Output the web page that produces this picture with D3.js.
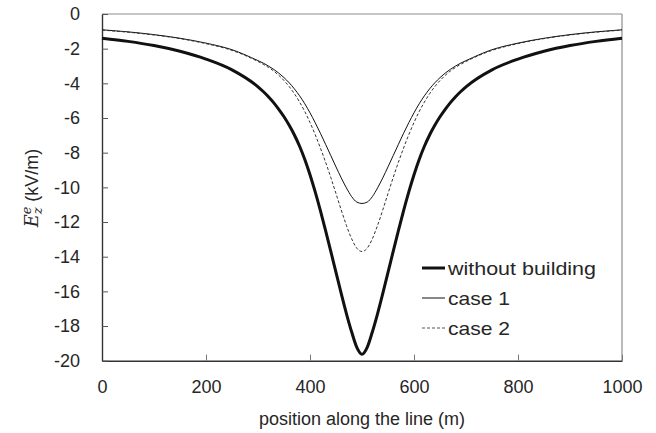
<!DOCTYPE html>
<html><head><meta charset="utf-8">
<script src="https://cdn.jsdelivr.net/npm/d3@7"></script>
<style>body{margin:0;background:#fff;} svg{display:block;font-family:Arial,"Liberation Sans",sans-serif;}</style>
</head><body>
<svg id="c" width="656" height="433"></svg>
<script>
// Data
const positions = [0,50,100,150,200,250,300,310,320,330,340,350,360,370,380,390,400,410,420,430,440,450,460,470,480,490,500,
  510,520,530,540,550,560,570,580,590,600,610,620,630,640,650,660,670,680,690,700,750,800,850,900,950,1000];
const withoutBuilding = [-1.40,-1.58,-1.82,-2.15,-2.60,-3.22,-4.20,-4.47,-4.77,-5.11,-5.50,-5.93,-6.42,-6.98,-7.63,-8.39,-9.27,-10.26,-11.34,-12.49,-13.69,-14.91,-16.12,-17.28,-18.33,-19.23,-19.63,
  -19.23,-18.33,-17.28,-16.12,-14.91,-13.69,-12.49,-11.34,-10.26,-9.27,-8.39,-7.63,-6.98,-6.42,-5.93,-5.50,-5.11,-4.77,-4.47,-4.20,-3.22,-2.60,-2.15,-1.82,-1.58,-1.40];
const case1 = [-0.91,-1.03,-1.19,-1.40,-1.68,-2.06,-2.69,-2.83,-3.00,-3.19,-3.41,-3.67,-3.97,-4.32,-4.72,-5.18,-5.70,-6.27,-6.88,-7.52,-8.17,-8.82,-9.45,-10.03,-10.53,-10.85,-10.93,
  -10.85,-10.53,-10.03,-9.45,-8.82,-8.17,-7.52,-6.88,-6.27,-5.70,-5.18,-4.72,-4.32,-3.97,-3.67,-3.41,-3.19,-3.00,-2.83,-2.69,-2.06,-1.68,-1.40,-1.19,-1.03,-0.91];
const case2 = [-0.93,-1.05,-1.21,-1.42,-1.71,-2.10,-2.74,-2.90,-3.08,-3.29,-3.54,-3.84,-4.19,-4.60,-5.08,-5.63,-6.26,-6.96,-7.73,-8.55,-9.43,-10.36,-11.30,-12.19,-12.96,-13.51,-13.70,
  -13.51,-12.96,-12.19,-11.30,-10.36,-9.43,-8.55,-7.73,-6.96,-6.26,-5.63,-5.08,-4.60,-4.19,-3.84,-3.54,-3.29,-3.08,-2.90,-2.74,-2.10,-1.71,-1.42,-1.21,-1.05,-0.93];
const xTicks = [0,200,400,600,800,1000];
const yTicks = [0,-2,-4,-6,-8,-10,-12,-14,-16,-18,-20];
const seriesNames = ["without building","case 1","case 2"];

const svg = d3.select("#c");
const L=102, R=622, T=14, B=360.7;
const x = d3.scaleLinear().domain([0,1000]).range([L,R]);
const y = d3.scaleLinear().domain([0,-20]).range([T,B]);
const txt = "#262626";
const fmt = d => String(d);

// frame top/right
svg.append("line").attr("x1",L).attr("x2",R).attr("y1",T).attr("y2",T).attr("stroke","#8c8c8c").attr("stroke-width",1.2);
svg.append("line").attr("x1",R).attr("x2",R).attr("y1",T).attr("y2",B).attr("stroke","#8c8c8c").attr("stroke-width",1.2);

// axes
const gx = svg.append("g").attr("transform",`translate(0,${B})`)
  .call(d3.axisBottom(x).tickValues(xTicks).tickFormat(fmt).tickSizeInner(-6).tickSizeOuter(0).tickPadding(20));
gx.select(".domain").attr("stroke","#333").attr("stroke-width",1.4);
gx.selectAll(".tick line").attr("stroke","#777").attr("stroke-width",1);
gx.selectAll(".tick text").attr("font-size",18).attr("fill",txt).attr("font-family","Arial, 'Liberation Sans', sans-serif");

const gy = svg.append("g").attr("transform",`translate(${L},0)`)
  .call(d3.axisLeft(y).tickValues(yTicks).tickFormat(fmt).tickSizeInner(-6).tickSizeOuter(0).tickPadding(22));
gy.select(".domain").attr("stroke","#333").attr("stroke-width",1.4);
gy.selectAll(".tick line").attr("stroke","#555").attr("stroke-width",1);
gy.selectAll(".tick text").attr("font-size",18).attr("fill",txt).attr("font-family","Arial, 'Liberation Sans', sans-serif");

// lines
const line = vals => d3.line().x((d,i)=>x(positions[i])).y(d=>y(d)).curve(d3.curveMonotoneX)(vals);
svg.append("path").attr("d",line(withoutBuilding)).attr("fill","none").attr("stroke","#111").attr("stroke-width",3);
svg.append("path").attr("d",line(case1)).attr("fill","none").attr("stroke","#111").attr("stroke-width",1);
svg.append("path").attr("d",line(case2)).attr("fill","none").attr("stroke","#333").attr("stroke-width",1).attr("stroke-dasharray","3,2");

// legend
const legStyles = [{w:3,dash:null,c:"#111"},{w:1,dash:null,c:"#111"},{w:1,dash:"3,2",c:"#555"}];
const legY = [268,298,328];
const legLen = [148,62,62];
seriesNames.forEach((n,i)=>{
  const l = svg.append("line").attr("x1",422).attr("x2",445).attr("y1",legY[i]).attr("y2",legY[i])
    .attr("stroke",legStyles[i].c).attr("stroke-width",legStyles[i].w);
  if(legStyles[i].dash) l.attr("stroke-dasharray",legStyles[i].dash);
  svg.append("text").attr("x",448).attr("y",legY[i]).attr("dy","0.35em").attr("font-size",19).attr("fill",txt)
    .attr("textLength",legLen[i]).attr("lengthAdjust","spacingAndGlyphs").text(n);
});

// axis titles
svg.append("text").attr("x",(L+R)/2).attr("y",425).attr("text-anchor","middle").attr("font-size",18).attr("fill",txt)
  .text("position along the line (m)");
const yt = svg.append("text").attr("transform","translate(38,188) rotate(-90)").attr("text-anchor","middle").attr("font-size",18).attr("fill",txt);
yt.append("tspan").attr("font-family","'DejaVu Serif','Liberation Serif',serif").attr("font-style","italic").text("E");
yt.append("tspan").attr("font-family","'DejaVu Serif','Liberation Serif',serif").attr("font-style","italic").attr("font-size",13).attr("dy",4).text("z");
yt.append("tspan").attr("font-family","'DejaVu Serif','Liberation Serif',serif").attr("font-style","italic").attr("font-size",13).attr("dx",-7).attr("dy",-11).text("e");
yt.append("tspan").attr("dy",7).text(" (kV/m)");
</script>
</body></html>
